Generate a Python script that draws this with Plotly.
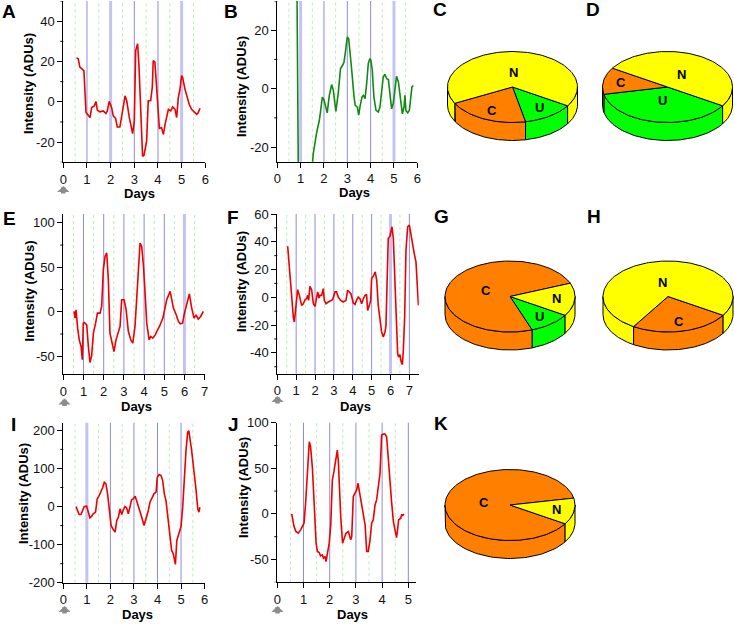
import numpy as np
import plotly.graph_objects as go

W, H = 734, 624
FONT = "Liberation Sans, Arial, sans-serif"
RED = "#EE0000"
GREEN_LINE = "#108A10"

# ---------------- data ----------------
a_pts = [(0.56, 21.8), (0.63, 21.3), (0.70, 17.2), (0.82, 16.3), (0.87, 15.5), (0.96, -5.3), (1.06, -7.0),
         (1.13, -7.8), (1.20, -2.8), (1.31, -2.0), (1.38, 0.2), (1.44, -4.2), (1.55, -5.0), (1.69, -4.5),
         (1.80, -5.8), (1.86, -4.5), (1.94, 0.2), (2.04, -2.8), (2.11, -7.0), (2.21, -8.2), (2.28, -12.5),
         (2.39, -12.5), (2.48, -6.2), (2.61, 3.0), (2.68, 0.5), (2.79, -7.8), (2.93, -15.8), (3.00, -9.5),
         (3.06, 25.5), (3.10, 28.0), (3.14, 28.8), (3.20, 17.2), (3.27, -4.5), (3.35, -27.0), (3.41, -26.5),
         (3.52, -19.5), (3.59, 0.5), (3.69, 0.5), (3.76, 7.2), (3.80, 20.5), (3.87, 19.7), (3.94, 7.2),
         (4.06, -13.2), (4.15, -12.8), (4.23, -16.2), (4.30, -11.2), (4.44, -3.7), (4.54, -4.5), (4.62, -2.5),
         (4.72, -3.7), (4.79, -7.8), (4.86, 2.2), (4.93, 6.3), (5.00, 13.0), (5.04, 12.2), (5.14, 6.3),
         (5.24, 2.2), (5.32, -1.2), (5.42, -3.7), (5.56, -5.0), (5.64, -6.2), (5.70, -5.5), (5.78, -3.2)]

b_pts = [(0.82, 60), (0.857, 17.7), (0.886, -25), (0.92, -50), (1.2, -60), (1.46, -30), (1.54, -22.3),
         (1.69, -14.9), (1.80, -10.9), (1.86, -7.4), (1.93, -2.9), (2.0, -3.8), (2.07, -6.3), (2.14, -8.3),
         (2.23, -2.3), (2.33, 1.4), (2.40, -0.6), (2.47, -6.3), (2.51, -7.8), (2.61, -1.7), (2.71, 6.9),
         (2.80, 8.0), (2.86, 9.1), (2.91, 12.0), (3.00, 17.7), (3.06, 17.1), (3.11, 13.7), (3.19, 6.3),
         (3.29, -2.9), (3.34, -5.7), (3.43, -6.3), (3.49, -9.1), (3.54, -6.3), (3.63, -2.9), (3.69, -2.3),
         (3.76, -3.4), (3.83, 1.7), (3.90, 8.6), (3.97, 10.3), (4.01, 9.7), (4.07, 6.3), (4.14, -2.9),
         (4.23, -7.4), (4.33, -8.0), (4.40, -6.3), (4.47, -0.6), (4.54, 4.0), (4.61, 4.9), (4.69, 3.4),
         (4.76, 3.1), (4.83, -2.9), (4.90, -6.9), (4.97, -5.1), (5.04, 0.6), (5.11, 4.2), (5.19, 2.3),
         (5.26, -2.9), (5.36, -8.6), (5.43, -6.3), (5.47, -2.3), (5.51, -7.4), (5.59, -8.3), (5.66, -7.4),
         (5.71, -2.9), (5.77, 0.6), (5.83, 1.1)]

e_pts = [(0.53, 0.4), (0.58, -7.1), (0.63, 2.3), (0.66, -9), (0.71, -18.4), (0.79, -31.6), (0.88, -39),
         (0.94, -54), (0.99, -12.8), (1.04, -12), (1.16, -14.7), (1.24, -39), (1.32, -57), (1.40, -50),
         (1.49, -24), (1.60, -12.8), (1.69, -1.5), (1.82, -1.5), (1.90, 6), (1.98, 47.4), (2.07, 62.4),
         (2.15, 66.2), (2.23, 36), (2.31, -24), (2.43, -39), (2.51, -44.7), (2.61, -31.6), (2.73, -22),
         (2.81, -16.5), (2.89, 13.5), (3.01, 13.5), (3.11, 2.3), (3.22, -22), (3.34, -31.6), (3.44, -35.3),
         (3.55, -16.5), (3.67, 36), (3.80, 77.4), (3.88, 73.7), (3.97, 51), (4.05, 21), (4.13, -12.8),
         (4.25, -31.6), (4.33, -27.8), (4.43, -29.7), (4.55, -26), (4.63, -22), (4.76, -16.5), (4.93, -7.1),
         (5.04, 6), (5.12, 13.5), (5.29, 23), (5.37, 13.5), (5.45, 4.1), (5.59, -3.4), (5.70, -10.9),
         (5.79, -13.5), (5.90, -12.8), (6.00, -1.5), (6.12, 9.8), (6.24, 20), (6.35, 5), (6.47, -7.1),
         (6.57, -3.4), (6.68, -8.3), (6.80, -5.3), (6.93, 0.4)]

f_pts = [(0.55, 36.8), (0.64, 19.5), (0.76, -2.2), (0.85, -14.2), (0.90, -17.8), (0.99, -7), (1.08, 5.5),
         (1.17, 1.4), (1.29, -5.8), (1.38, -4.6), (1.47, -1.7), (1.55, -1), (1.61, 1.4), (1.66, -2.2),
         (1.73, 7.9), (1.82, 5.5), (1.91, -4.6), (2.00, -6.5), (2.08, 0.2), (2.14, 3.9), (2.21, -0.5),
         (2.26, 1.4), (2.35, 1.4), (2.44, 6.3), (2.49, -2.2), (2.58, -4.6), (2.70, -3.4), (2.83, -2.2),
         (2.93, -1.7), (3.06, 3.9), (3.14, 3.9), (3.23, 0.2), (3.36, -2.2), (3.50, -3.4), (3.64, -2.2),
         (3.73, 5.1), (3.82, 3.9), (3.90, 2.6), (4.03, -4.1), (4.12, -5.1), (4.20, -2.2), (4.29, 0.2),
         (4.38, -1), (4.47, -4.6), (4.56, -1), (4.65, 1.4), (4.73, 2.2), (4.79, -9.4), (4.88, -5.8),
         (4.95, -2.2), (5.00, 13.5), (5.09, 15.2), (5.19, 18.3), (5.27, 12.3), (5.35, -5.8), (5.44, -14.2),
         (5.53, -25), (5.62, -28.6), (5.71, -25), (5.76, -20.2), (5.83, 7.5), (5.88, 42.4), (5.97, 44),
         (6.08, 50.8), (6.15, 42.4), (6.24, 9.9), (6.33, -21.4), (6.38, -40.7), (6.43, -43), (6.50, -41.2),
         (6.57, -46.7), (6.63, -48.4), (6.68, -38.3), (6.75, -14.2), (6.82, 33.9), (6.91, 50.8), (7.00, 52),
         (7.07, 46), (7.17, 37.5), (7.26, 31.5), (7.35, 25.5), (7.42, 12.3), (7.48, -5.8)]

i_pts = [(0.54, 0), (0.59, -8.7), (0.67, -21), (0.75, -21), (0.82, -10.5), (0.89, 0), (0.99, 0.9),
         (1.06, -14.8), (1.13, -29.7), (1.20, -26.2), (1.27, -19.2), (1.37, -14.8), (1.44, 20), (1.52, 28.8),
         (1.60, 37.6), (1.67, 49), (1.74, 63.8), (1.81, 59.4), (1.88, 33.2), (1.95, -10.5), (2.03, -49.8),
         (2.10, -58.5), (2.20, -67.2), (2.27, -36.7), (2.34, -28), (2.41, -6.1), (2.48, -21), (2.55, -8.7),
         (2.62, 0), (2.69, -3.5), (2.76, -19.2), (2.83, -1.7), (2.90, 17.5), (2.97, 20), (3.05, 27),
         (3.12, 14), (3.23, -6.1), (3.33, -28), (3.43, -49.8), (3.50, -36.7), (3.61, -10.5), (3.68, 11.4),
         (3.78, 24.5), (3.85, 33.2), (3.94, 37.6), (3.99, 76.9), (4.07, 83.8), (4.15, 81.2), (4.22, 68.1),
         (4.29, 33.2), (4.36, 15.7), (4.43, -28), (4.53, -80.3), (4.60, -115.3), (4.67, -124),
         (4.72, -145.9), (4.76, -152), (4.82, -89), (4.92, -71.6), (5.00, -52.4), (5.07, -1.7), (5.14, 76.9),
         (5.21, 146.7), (5.28, 194.8), (5.33, 199), (5.45, 146.6), (5.55, 98.6), (5.64, 41.9), (5.71, -6),
         (5.76, -14.8), (5.80, -1.7)]

j_pts = [(0.55, 0), (0.59, -8.4), (0.64, -13.9), (0.71, -19.3), (0.80, -21.2), (0.89, -17.5), (0.97, -12),
         (1.02, -10.2), (1.08, 11.7), (1.15, 40.8), (1.22, 79.1), (1.27, 73.7), (1.34, 50), (1.40, 15.3),
         (1.48, -32.1), (1.53, -41.2), (1.60, -42.3), (1.65, -46), (1.72, -44.9), (1.76, -48.5),
         (1.82, -46.7), (1.86, -52.2), (1.91, -43), (1.98, -32.1), (2.04, -12), (2.10, 37.2), (2.16, 46.3),
         (2.23, 57.3), (2.29, 70), (2.33, 57.3), (2.37, 29.9), (2.42, -2.9), (2.49, -32.1), (2.54, -28.4),
         (2.62, -21.2), (2.71, -19.3), (2.75, -23), (2.80, -28.4), (2.84, -24.8), (2.90, 19), (2.96, 22.6),
         (3.03, 26.3), (3.08, 33.6), (3.13, 24.4), (3.22, 9.8), (3.28, 0.7), (3.35, -12), (3.41, -41.2),
         (3.47, -41.2), (3.54, -28.4), (3.60, -10.2), (3.66, -6.6), (3.73, 9.8), (3.79, 15.3), (3.85, 29.9),
         (3.92, 44.5), (3.98, 86.4), (4.05, 87.5), (4.11, 87.5), (4.17, 84.6), (4.24, 59.1), (4.30, 33.6),
         (4.36, 13.5), (4.43, -8.4), (4.49, -19.3), (4.55, -25.9), (4.59, -17.5), (4.63, -6.6), (4.71, -4.7),
         (4.75, -0.4), (4.78, -2.2), (4.83, 0)]

a_yticks = [-20, 0, 20, 40]
b_yticks = [-20, 0, 20]
e_yticks = [-50, 0, 50, 100]
f_yticks = [-40, -20, 0, 20, 40, 60]
i_yticks = [-200, -100, 0, 100, 200]
j_yticks = [-50, 0, 50, 100]

pie_labels = ["U", "C", "N"]
pie_c = [12.9, 20.6, 66.5]
pie_d = [37.8, 12.2, 50.0]
pie_g = [10.6, 74.4, 15.0]
pie_h = [0.0, 25.0, 75.0]
pie_k = [0.0, 88.0, 12.0]
pie_colors = {"U": "#00FF00", "C": "#FF8000", "N": "#FFFF00"}

# ---------------- layout helpers ----------------
def px(x):
    return x / W


def py(y):
    return 1 - y / H


panels = [
    dict(pts=a_pts, color=RED, xbox=(63.3, 205.3), ybox=(1, 162.3), xr=(0, 6), yr=(-30, 50), yt=a_yticks,
         ymin=10, nx=6, blue=[1, 2, 3, 4, 5], thick=[2, 5], green=[0.5, 1.5, 2.5, 3.5, 4.5, 5.5]),
    dict(pts=b_pts, color=GREEN_LINE, xbox=(277.3, 417.3), ybox=(1, 161.7), xr=(0, 6), yr=(-25, 30), yt=b_yticks,
         ymin=10, nx=6, blue=[1, 2, 3, 4, 5], thick=[1, 5], green=[0.5, 1.5, 2.5, 3.5, 4.5, 5.5]),
    dict(pts=e_pts, color=RED, xbox=(63.3, 204.7), ybox=(214, 374), xr=(0, 7), yr=(-70, 110), yt=e_yticks,
         ymin=25, nx=7, blue=[1, 2, 3, 4, 5, 6], thick=[6], green=[0.5, 1.5, 2.5, 3.5, 4.5, 5.5, 6.5]),
    dict(pts=f_pts, color=RED, xbox=(277.3, 418.8), ybox=(214, 373.7), xr=(0, 7.5), yr=(-55, 60), yt=f_yticks,
         ymin=10, nx=7, blue=[1, 2, 3, 4, 5, 6, 7], thick=[6], green=[0.5, 1.5, 2.5, 3.5, 4.5, 5.5, 6.5]),
    dict(pts=i_pts, color=RED, xbox=(63.3, 204.6), ybox=(422.7, 582.7), xr=(0, 6), yr=(-200, 220), yt=i_yticks,
         ymin=50, nx=6, blue=[1, 2, 3, 4, 5], thick=[1], green=[0.5, 1.5, 2.5, 3.5, 4.5, 5.5]),
    dict(pts=j_pts, color=RED, xbox=(277.3, 416.2), ybox=(422.7, 582.3), xr=(0, 5.3), yr=(-75, 100), yt=j_yticks,
         ymin=25, nx=5, blue=[1, 2, 3, 4, 5], thick=[], green=[0.5, 1.5, 2.5, 3.5, 4.5]),
]

fig = go.Figure()
layout = dict(width=W, height=H, margin=dict(l=0, r=0, t=0, b=0, autoexpand=False), showlegend=False,
              paper_bgcolor="white", plot_bgcolor="rgba(0,0,0,0)", font=dict(family=FONT, color="#111"))
shapes = []
annotations = []

tickfont = dict(family=FONT, size=13, color="#111")

for k, p in enumerate(panels, start=1):
    sfx = "" if k == 1 else str(k)
    xs, ys = zip(*p["pts"])
    fig.add_trace(go.Scatter(x=list(xs), y=list(ys), mode="lines", line=dict(color=p["color"], width=1.6),
                             xaxis="x" + sfx, yaxis="y" + sfx, hoverinfo="skip"))
    layout["xaxis" + sfx] = dict(
        domain=[px(p["xbox"][0]), px(p["xbox"][1])], range=list(p["xr"]), anchor="y" + sfx,
        showline=True, linecolor="black", linewidth=1, ticks="outside", ticklen=5, tickcolor="black",
        tickmode="array", tickvals=list(range(p["nx"] + 1)), ticktext=[str(v) for v in range(p["nx"] + 1)],
        showgrid=False, zeroline=False, tickfont=tickfont, fixedrange=True)
    layout["yaxis" + sfx] = dict(
        domain=[py(p["ybox"][1]), py(p["ybox"][0])], range=list(p["yr"]), anchor="x" + sfx,
        showline=True, linecolor="black", linewidth=1, ticks="outside", ticklen=5, tickcolor="black",
        tickmode="array", tickvals=p["yt"], ticktext=[str(v) for v in p["yt"]],
        showgrid=False, zeroline=False, tickfont=tickfont, fixedrange=True)
    # minor y ticks (short marks at half steps)
    step = p["ymin"]
    v = np.ceil(p["yr"][0] / step) * step
    while v <= p["yr"][1] + 1e-9:
        if v not in p["yt"]:
            shapes.append(dict(type="line", xref="x" + sfx + " domain", yref="y" + sfx, xsizemode="pixel",
                               xanchor=0, x0=-3, x1=0, y0=v, y1=v, line=dict(color="black", width=1)))
        v += step
    for d in p["green"]:
        shapes.append(dict(type="line", xref="x" + sfx, yref="y" + sfx + " domain", x0=d, x1=d, y0=0, y1=1,
                           line=dict(color="#BDEBBD", width=1, dash="dot"), layer="below"))
    for d in p["blue"]:
        if d in p["thick"]:
            ln = dict(color="#C4C4F2", width=3)
        else:
            ln = dict(color="#8C8CDC", width=1)
        shapes.append(dict(type="line", xref="x" + sfx, yref="y" + sfx + " domain", x0=d, x1=d, y0=0, y1=1,
                           line=ln, layer="below"))

# ---------------- 3D pies ----------------
layout["xaxis7"] = dict(domain=[0, 1], range=[0, W], visible=False, fixedrange=True, anchor="y7")
layout["yaxis7"] = dict(domain=[0, 1], range=[H, 0], visible=False, fixedrange=True, anchor="x7")

RX, RY, DEP = 65.0, 35.5, 18.0
START = -32.0


def add_pie(cx, cy, fracs):
    slices = []
    a = START
    for f, lab in zip(fracs, pie_labels):
        if f <= 0:
            continue
        a2 = a - f / 100.0 * 360.0
        slices.append((lab, f, a, a2))
        a = a2
    # side walls (front half)
    for lab, f, a1, a2 in slices:
        for lo, hi in [(-180.0, 0.0), (-540.0, -360.0)]:
            s, e = max(a2, lo), min(a1, hi)
            if e - s > 0.01:
                t = np.radians(np.linspace(e, s, 60))
                x = cx + RX * np.cos(t)
                y = cy - RY * np.sin(t)
                xx = np.concatenate([x, x[::-1], x[:1]])
                yy = np.concatenate([y, y[::-1] + DEP, y[:1]])
                fig.add_trace(go.Scatter(x=xx, y=yy, mode="lines", fill="toself", fillcolor=pie_colors[lab],
                                         line=dict(color="black", width=1), xaxis="x7", yaxis="y7",
                                         hoverinfo="skip"))
    # top faces
    for lab, f, a1, a2 in slices:
        n = max(int(f * 2), 8)
        t = np.radians(np.linspace(a1, a2, n))
        xx = np.concatenate([[cx], cx + RX * np.cos(t), [cx]])
        yy = np.concatenate([[cy], cy - RY * np.sin(t), [cy]])
        fig.add_trace(go.Scatter(x=xx, y=yy, mode="lines", fill="toself", fillcolor=pie_colors[lab],
                                 line=dict(color="black", width=1), xaxis="x7", yaxis="y7", hoverinfo="skip"))
        mid = np.radians((a1 + a2) / 2)
        kr = 0.72 if f < 30 else 0.4
        annotations.append(dict(x=cx + kr * RX * np.cos(mid), y=cy - kr * RY * np.sin(mid), xref="x7", yref="y7",
                                text="<b>%s</b>" % lab, showarrow=False, xanchor="center", yanchor="middle",
                                font=dict(family=FONT, size=13, color="black")))


add_pie(512.5, 87, pie_c)
add_pie(667.5, 87, pie_d)
add_pie(510, 296.5, pie_g)
add_pie(668, 296.5, pie_h)
add_pie(510, 505, pie_k)

# ---------------- text ----------------
def txt(x, y, text, size, family=FONT, color="black", angle=0):
    annotations.append(dict(x=px(x), y=py(y), xref="paper", yref="paper", text=text, showarrow=False,
                            xanchor="center", yanchor="middle", textangle=angle,
                            font=dict(family=family, size=size, color=color)))


letters = [("A", 9, 11), ("B", 231, 11), ("C", 440, 10), ("D", 593, 10), ("E", 9, 218), ("F", 233, 217),
           ("G", 441, 216), ("H", 594, 216), ("I", 13, 424), ("J", 233, 424), ("K", 441, 423)]
for t, x, y in letters:
    txt(x, y, "<b>%s</b>" % t, 19)

ytitles = [(29, 84), (242, 87), (28.5, 291), (242, 282), (23, 494), (243, 488)]
for x, y in ytitles:
    txt(x, y, "<b>Intensity (ADUs)</b>", 13, angle=-90)

xtitles = [(139, 193), (354, 192), (136, 406), (355, 406), (137, 614), (352, 614)]
for x, y in xtitles:
    txt(x, y, "<b>Days</b>", 13)

# gray start-of-recording arrows (tip position), drawn as annotation arrows
arrow_tips = [(63.3, 186), (64.5, 398.5), (277.5, 396), (64.5, 606), (277.5, 606)]
for x, y in arrow_tips:
    annotations.append(dict(x=px(x), y=py(y), xref="paper", yref="paper", text="", showarrow=True,
                            ax=0, ay=9, axref="pixel", ayref="pixel", arrowhead=1, arrowsize=0.45,
                            arrowwidth=4.5, arrowcolor="#8C8C8C", standoff=0, startstandoff=0))

layout["shapes"] = shapes
layout["annotations"] = annotations
fig.update_layout(**layout)
fig.write_html("out.html", config={"displayModeBar": False},
               post_script="document.body.style.margin='0px';document.body.style.overflow='hidden';")
